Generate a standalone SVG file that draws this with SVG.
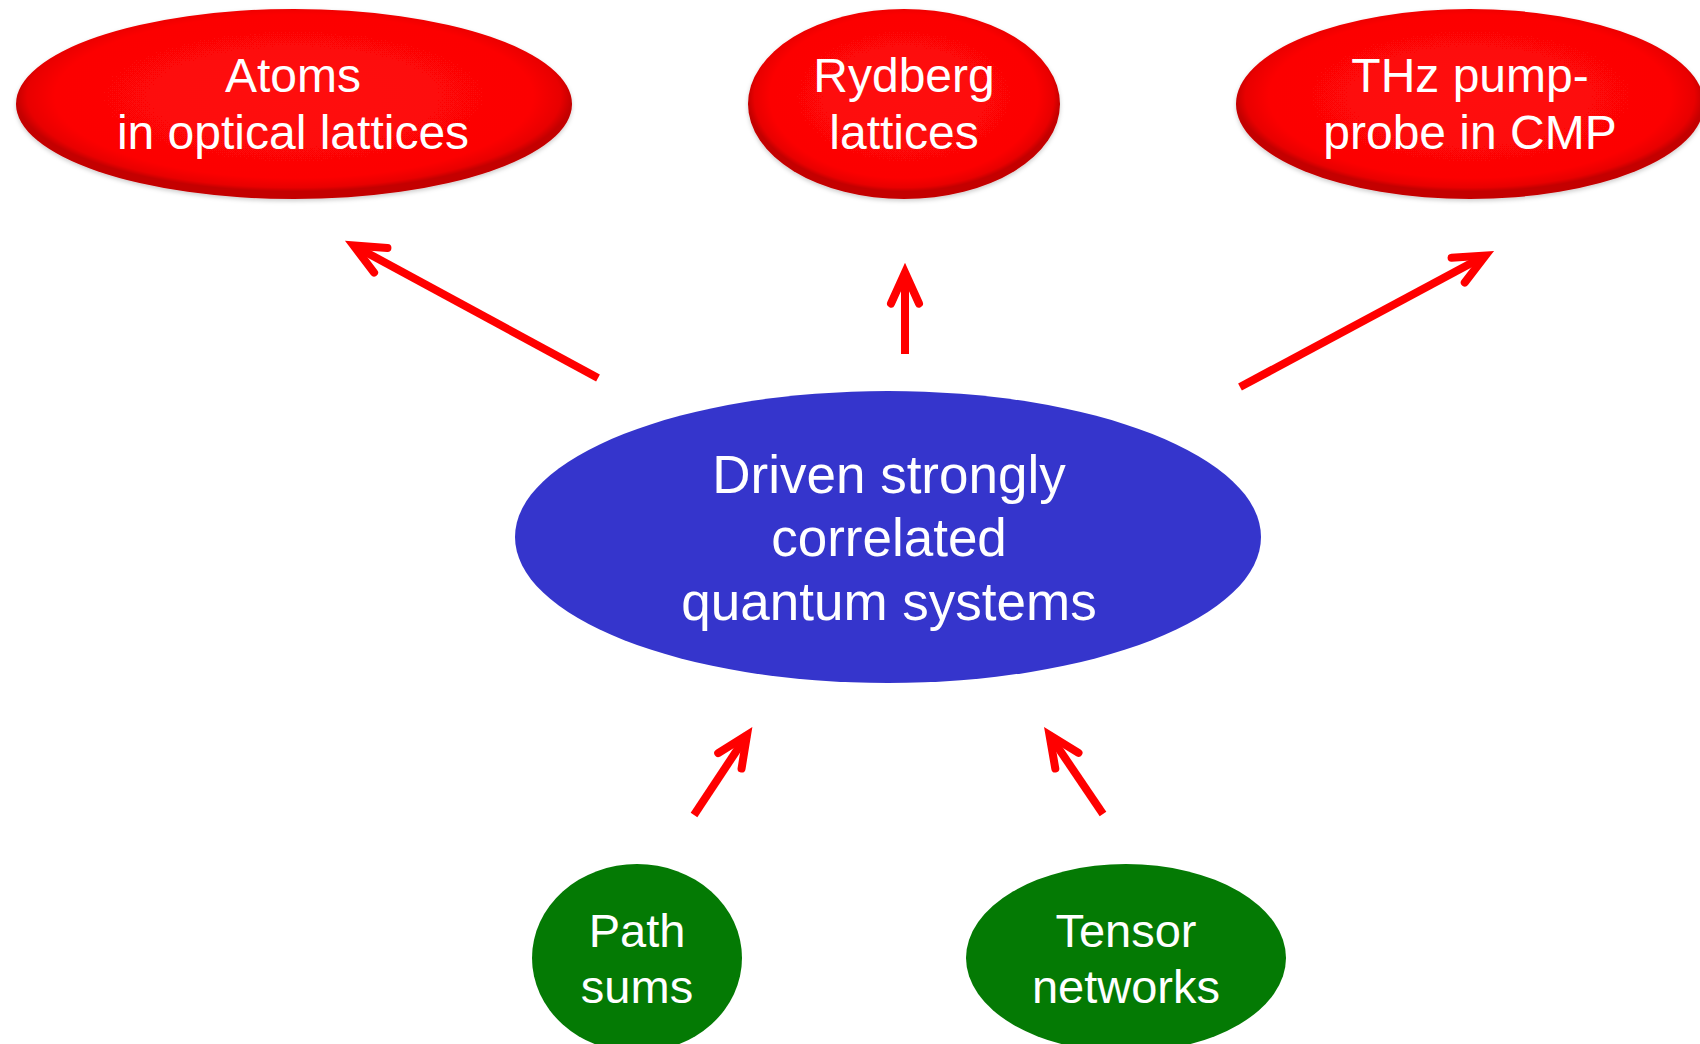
<svg xmlns="http://www.w3.org/2000/svg" width="1700" height="1044" viewBox="0 0 1700 1044">
<style>
text{font-family:"Liberation Sans",Arial,sans-serif;fill:#fff;text-anchor:middle}
.r{font-size:48px}
.b{font-size:53px}
.g{font-size:47px}
.arrow{stroke:#ff0000;stroke-width:8;fill:none}
</style>
<defs>
<radialGradient id="rg" cx="50%" cy="46%" r="50%">
<stop offset="0" stop-color="#ff0a0a"/>
<stop offset="0.86" stop-color="#fc0505"/>
<stop offset="0.96" stop-color="#e80000"/>
<stop offset="1" stop-color="#c40000"/>
</radialGradient>
<filter id="sh" x="-10%" y="-10%" width="120%" height="130%">
<feDropShadow dx="0" dy="2" stdDeviation="2" flood-color="#000" flood-opacity="0.2"/>
</filter>
<marker id="ah" markerUnits="userSpaceOnUse" orient="auto" refX="0" refY="0" markerWidth="60" markerHeight="60" overflow="visible">
<path d="M-31,-14 L0,0 L-31,14" fill="none" stroke="#ff0000" stroke-width="8" stroke-linecap="round" stroke-linejoin="miter"/>
</marker>
</defs>
<rect width="1700" height="1044" fill="#fff"/>
<g id="atoms">
<ellipse cx="294" cy="104" rx="278" ry="95" fill="url(#rg)" filter="url(#sh)"/>
<text class="r" x="293" y="92">Atoms</text>
<text class="r" x="293" y="149">in optical lattices</text>
</g>
<g id="rydberg">
<ellipse cx="904" cy="104" rx="156" ry="95" fill="url(#rg)" filter="url(#sh)"/>
<text class="r" x="904" y="92">Rydberg</text>
<text class="r" x="904" y="149">lattices</text>
</g>
<g id="thz">
<ellipse cx="1470" cy="104" rx="234" ry="95" fill="url(#rg)" filter="url(#sh)"/>
<text class="r" x="1470" y="92">THz pump-</text>
<text class="r" x="1470" y="149">probe in CMP</text>
</g>
<g id="driven">
<ellipse cx="888" cy="537" rx="373" ry="146" fill="#3535cc"/>
<text class="b" x="889" y="493">Driven strongly</text>
<text class="b" x="889" y="556">correlated</text>
<text class="b" x="889" y="620">quantum systems</text>
</g>
<g id="pathsums">
<ellipse cx="637" cy="958" rx="105" ry="94" fill="#047a04"/>
<text class="g" x="637" y="947">Path</text>
<text class="g" x="637" y="1003">sums</text>
</g>
<g id="tensor">
<ellipse cx="1126" cy="958" rx="160" ry="94" fill="#047a04"/>
<text class="g" x="1126" y="947">Tensor</text>
<text class="g" x="1126" y="1003">networks</text>
</g>
<g id="connectors">
<line class="arrow" x1="598" y1="378" x2="353.5" y2="245.5" marker-end="url(#ah)"/>
<line class="arrow" x1="905" y1="354" x2="905" y2="272.5" marker-end="url(#ah)"/>
<line class="arrow" x1="1240" y1="387" x2="1485.5" y2="255.5" marker-end="url(#ah)"/>
<line class="arrow" x1="694" y1="815" x2="747" y2="735" marker-end="url(#ah)"/>
<line class="arrow" x1="1103" y1="814" x2="1049.5" y2="735" marker-end="url(#ah)"/>
</g>
</svg>
